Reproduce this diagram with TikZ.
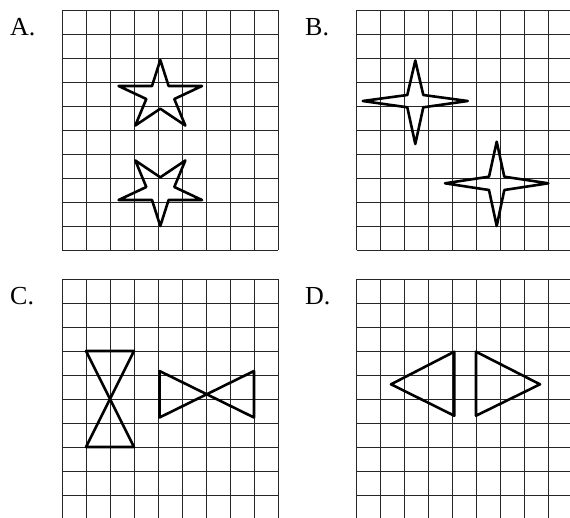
\documentclass[tikz,border=0pt]{standalone}
\usepackage{fontspec}
\setmainfont{Liberation Serif}
\begin{document}
\begin{tikzpicture}[
    x=1pt, y=-1pt,
    font=\fontsize{26}{30}\selectfont,
    lbl/.style={anchor=base west, inner sep=0pt},
    gridline/.style={draw=black!85, line width=0.8pt, step=24pt},
    figline/.style={draw=black, line width=2.6pt, line join=round}
  ]
    \useasboundingbox (0,0) rectangle (570,517);
    \clip (0,0) rectangle (570,517);

    \node[lbl] (labA) at (10,35)  {A.};
    \node[lbl] (labB) at (305,35) {B.};
    \node[lbl] (labC) at (10,304) {C.};
    \node[lbl] (labD) at (305,304) {D.};

    \begin{scope}[shift={(62,10)}]
      \draw[gridline] (0,0) grid (216,240);
      \draw[figline] (98.3,50) -- (106.6,76) -- (140,76) -- (112.3,89) -- (123.3,115.5)
        -- (98.3,98.7) -- (73.3,115.5) -- (84.3,89) -- (56.6,76) -- (90,76) -- cycle;
      \draw[figline] (98.3,216) -- (106.6,190) -- (140,190) -- (112.3,177) -- (123.3,150.5)
        -- (98.3,167.3) -- (73.3,150.5) -- (84.3,177) -- (56.6,190) -- (90,190) -- cycle;
    \end{scope}

    \begin{scope}[shift={(356.7,10)}]
      \draw[gridline] (0,0) grid (216,240);
      \draw[figline] (58.6,50.5) -- (66.6,85) -- (111,91) -- (66.6,97.3) -- (58.6,134)
        -- (50.6,97.3) -- (6.1,91) -- (50.6,85) -- cycle;
      \draw[figline] (140,131.7) -- (147.6,166.7) -- (191.6,173.3) -- (147.6,180) -- (140,216)
        -- (132.3,180) -- (88.3,173.3) -- (132.3,166.7) -- cycle;
    \end{scope}

    \begin{scope}[shift={(62,279)}]
      \draw[gridline] (0,0) grid (216,240);
      \draw[figline] (24,72) -- (72,72) -- (24,168) -- (72,168) -- cycle;
      \draw[figline] (97.5,92) -- (97.5,138.5) -- (192,92) -- (192,138.5) -- cycle;
    \end{scope}

    \begin{scope}[shift={(356.7,279)}]
      \draw[gridline] (0,0) grid (216,240);
      \draw[figline] (97.6,72.7) -- (97.6,136.7) -- (34.3,105.3) -- cycle;
      \draw[figline] (119.3,72.7) -- (119.3,136.7) -- (183.3,105.3) -- cycle;
    \end{scope}
  \end{tikzpicture}
\end{document}
